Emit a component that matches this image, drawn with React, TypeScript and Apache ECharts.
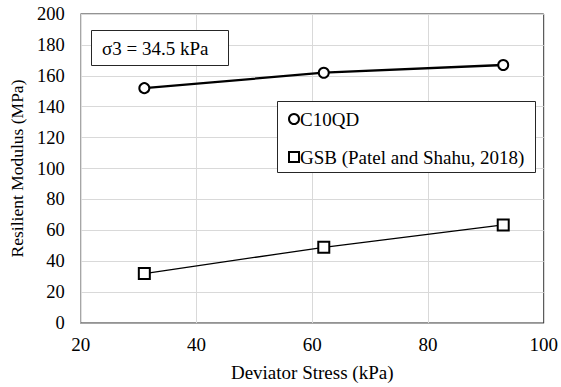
import React, { useEffect, useRef } from "react";
import * as echarts from "echarts";

const deviatorStress = [31, 62, 93];
const c10qdValues = [152, 162, 167];
const gsbValues = [32, 49, 63.5];
const seriesNames = ["C10QD", "GSB (Patel and Shahu, 2018)"];
const annotationText = "σ3 = 34.5 kPa";
const xAxisTitle = "Deviator Stress (kPa)";
const yAxisTitle = "Resilient Modulus (MPa)";

const FONT = "Liberation Serif";

export default function App() {
  const ref = useRef<HTMLDivElement>(null);
  useEffect(() => {
    if (!ref.current) return;
    const chart = echarts.init(ref.current, undefined, { renderer: "svg" });
    const toPairs = (ys: number[]) => deviatorStress.map((x, i) => [x, ys[i]]);
    chart.setOption({
      animation: false,
      backgroundColor: "#fff",
      textStyle: { fontFamily: FONT, color: "#000" },
      grid: {
        left: 78,
        right: 15,
        top: 14,
        bottom: 62,
        show: true,
        borderColor: "#262626",
        borderWidth: 1,
        backgroundColor: "transparent",
      },
      xAxis: {
        type: "value",
        min: 20,
        max: 100,
        interval: 20,
        name: xAxisTitle,
        nameLocation: "middle",
        nameGap: 40,
        nameTextStyle: { fontFamily: FONT, fontSize: 19, color: "#000" },
        axisLine: { show: true, lineStyle: { color: "#a6a6a6", width: 1 } },
        axisTick: { show: false },
        axisLabel: { fontFamily: FONT, fontSize: 19, color: "#000", margin: 12 },
        splitLine: { show: true, lineStyle: { color: "#d9d9d9", width: 1 } },
      },
      yAxis: {
        type: "value",
        min: 0,
        max: 200,
        interval: 20,
        name: yAxisTitle,
        nameLocation: "middle",
        nameGap: 46,
        nameRotate: 90,
        nameTextStyle: { fontFamily: FONT, fontSize: 17.5, color: "#000" },
        axisLine: { show: true, lineStyle: { color: "#a6a6a6", width: 1 } },
        axisTick: { show: false },
        axisLabel: { fontFamily: FONT, fontSize: 18.5, color: "#000", margin: 16 },
        splitLine: { show: true, lineStyle: { color: "#d9d9d9", width: 1 } },
      },
      legend: [
        {
          data: [{ name: seriesNames[0], icon: "circle" }],
          left: 288,
          top: 109.5,
          padding: 0,
          itemWidth: 10,
          itemHeight: 10,
          z: 10,
          textStyle: { fontFamily: FONT, fontSize: 19, color: "#000", padding: [0, 0, 0, -4] },
        },
        {
          data: [{ name: seriesNames[1], icon: "rect" }],
          left: 288,
          top: 147.5,
          padding: 0,
          itemWidth: 10,
          itemHeight: 10,
          z: 10,
          textStyle: { fontFamily: FONT, fontSize: 19, color: "#000", padding: [0, 0, 0, -4] },
        },
      ],
      graphic: [
        {
          type: "rect",
          z: 5,
          shape: { x: 277.5, y: 101.5, width: 258, height: 71 },
          style: { fill: "#fff", stroke: "#262626", lineWidth: 1 },
        },
        {
          type: "rect",
          z: 5,
          shape: { x: 91.5, y: 30.5, width: 137, height: 35 },
          style: { fill: "#fff", stroke: "#262626", lineWidth: 1 },
        },
        {
          type: "text",
          z: 6,
          x: 102,
          y: 48,
          style: {
            text: annotationText,
            fontFamily: FONT,
            fontSize: 19,
            fill: "#000",
            verticalAlign: "middle",
          },
        },
      ],
      series: [
        {
          name: seriesNames[0],
          type: "line",
          data: toPairs(c10qdValues),
          symbol: "circle",
          symbolSize: 10,
          lineStyle: { color: "#000", width: 2.3 },
          itemStyle: { color: "#fff", borderColor: "#000", borderWidth: 2 },
          z: 3,
        },
        {
          name: seriesNames[1],
          type: "line",
          data: toPairs(gsbValues),
          symbol: "rect",
          symbolSize: 11,
          lineStyle: { color: "#000", width: 1.3 },
          itemStyle: { color: "#fff", borderColor: "#000", borderWidth: 2 },
          z: 3,
        },
      ],
    });
    return () => chart.dispose();
  }, []);
  return <div ref={ref} style={{ width: 561, height: 387, position: "absolute", left: 0, top: 0 }} />;
}
